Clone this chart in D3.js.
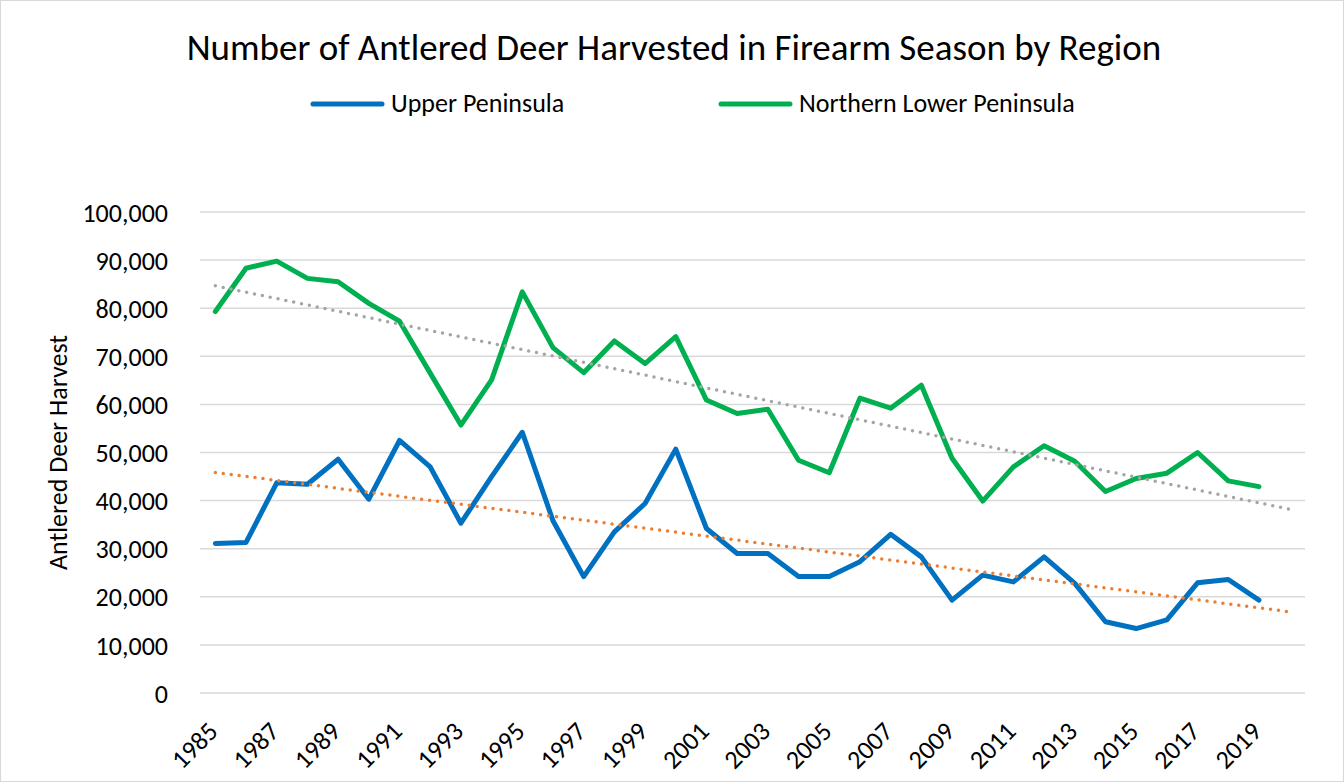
<!DOCTYPE html>
<html>
<head>
<meta charset="utf-8">
<script src="https://cdn.jsdelivr.net/npm/d3@7"></script>
<style>
  body { margin: 0; background: #fff; }
  svg { display: block; font-family: Carlito, Calibri, Lato, sans-serif; }
</style>
</head>
<body>
<svg id="chart" width="1344" height="782"></svg>
<script>
// years on the category axis (2020 is an empty slot, the trendlines run to it)
var years = d3.range(1985, 2021);
var dataYears = d3.range(1985, 2020);

var upperPeninsula = [31100, 31300, 43700, 43400, 48600, 40300, 52500, 47000, 35300, 45000,
  54200, 35800, 24200, 33500, 39400, 50700, 34200, 29000, 29000, 24200,
  24200, 27300, 33000, 28300, 19300, 24500, 23100, 28300, 22800, 14800,
  13400, 15200, 22900, 23600, 19300];

var northernLower = [79300, 88300, 89800, 86200, 85500, 81000, 77300, 66500, 55700, 65100,
  83400, 71800, 66600, 73200, 68500, 74100, 60900, 58100, 59000, 48400,
  45800, 61300, 59200, 64000, 48800, 39900, 47000, 51400, 48200, 41900,
  44600, 45700, 50000, 44100, 42900];

var yTicks = d3.range(0, 100001, 10000);
var xLabels = d3.range(1985, 2020, 2);

var svg = d3.select('#chart');

var plotLeft = 200, plotRight = 1305, plotTop = 212, plotBottom = 693;
var labelSize = 26;

var x = d3.scaleBand().domain(years).range([plotLeft, plotRight]);
var y = d3.scaleLinear().domain([0, 100000]).range([plotBottom, plotTop]);
var cx = function(yr) { return x(yr) + x.bandwidth() / 2; };

// chart border
svg.append('rect')
  .attr('x', 0.5).attr('y', 0.5)
  .attr('width', 1343).attr('height', 781)
  .attr('fill', 'none')
  .attr('stroke', '#d9d9d9');

// title
svg.append('text')
  .attr('x', 674).attr('y', 60)
  .attr('text-anchor', 'middle')
  .attr('font-size', 37)
  .attr('fill', '#000')
  .text('Number of Antlered Deer Harvested in Firearm Season by Region');

// gridlines
svg.append('g')
  .selectAll('line')
  .data(yTicks)
  .join('line')
  .attr('x1', plotLeft).attr('x2', plotRight)
  .attr('y1', function(d) { return y(d); })
  .attr('y2', function(d) { return y(d); })
  .attr('stroke', '#d9d9d9')
  .attr('stroke-width', 1.5);

// y axis
var yAxis = svg.append('g')
  .attr('transform', 'translate(' + (plotLeft - 32) + ',0)')
  .call(d3.axisLeft(y).tickValues(yTicks).tickSize(0).tickFormat(d3.format(',')));
yAxis.select('.domain').remove();
yAxis.selectAll('text')
  .attr('font-size', labelSize)
  .attr('font-family', 'Carlito, Calibri, Lato, sans-serif')
  .attr('fill', '#000')
  .attr('x', 0)
  .attr('dy', '0.35em');

svg.append('text')
  .attr('transform', 'translate(67,' + ((plotTop + plotBottom) / 2) + ') rotate(-90)')
  .attr('text-anchor', 'middle')
  .attr('font-size', labelSize)
  .attr('fill', '#000')
  .text('Antlered Deer Harvest');

// x axis
var xAxis = svg.append('g')
  .attr('transform', 'translate(0,' + plotBottom + ')')
  .call(d3.axisBottom(x).tickValues(xLabels).tickSize(0));
xAxis.select('.domain').remove();
xAxis.selectAll('text')
  .attr('font-size', labelSize)
  .attr('font-family', 'Carlito, Calibri, Lato, sans-serif')
  .attr('fill', '#000')
  .attr('text-anchor', 'end')
  .attr('dy', null)
  .attr('y', 0)
  .attr('transform', 'translate(4,40) rotate(-45)');

// linear trendline, forecast forward one period
function trend(vals) {
  var xs = d3.range(1, vals.length + 1);
  var mx = d3.mean(xs), my = d3.mean(vals);
  var num = d3.sum(xs, function(d, i) { return (d - mx) * (vals[i] - my); });
  var den = d3.sum(xs, function(d) { return (d - mx) * (d - mx); });
  var b = num / den, a = my - b * mx;
  return [
    [years[0], a + b * 1],
    [years[years.length - 1], a + b * years.length]
  ];
}

var line = d3.line()
  .x(function(d) { return cx(d[0]); })
  .y(function(d) { return y(d[1]); });

var series = [
  { name: 'Upper Peninsula', vals: upperPeninsula, color: '#0070c0', trendColor: '#ed7d31' },
  { name: 'Northern Lower Peninsula', vals: northernLower, color: '#00b050', trendColor: '#a5a5a5' }
];

series.forEach(function(s) {
  svg.append('path')
    .datum(dataYears.map(function(yr, i) { return [yr, s.vals[i]]; }))
    .attr('d', line)
    .attr('fill', 'none')
    .attr('stroke', s.color)
    .attr('stroke-width', 5)
    .attr('stroke-linejoin', 'round')
    .attr('stroke-linecap', 'round');
});

series.forEach(function(s) {
  svg.append('path')
    .datum(trend(s.vals))
    .attr('d', line)
    .attr('fill', 'none')
    .attr('stroke', s.trendColor)
    .attr('stroke-width', 3.5)
    .attr('stroke-linecap', 'round')
    .attr('stroke-dasharray', '0 8');
});

// legend
var legend = [
  { name: 'Upper Peninsula', color: '#0070c0', x: 313 },
  { name: 'Northern Lower Peninsula', color: '#00b050', x: 721 }
];
legend.forEach(function(l) {
  svg.append('line')
    .attr('x1', l.x).attr('x2', l.x + 69)
    .attr('y1', 104).attr('y2', 104)
    .attr('stroke', l.color)
    .attr('stroke-width', 5)
    .attr('stroke-linecap', 'round');
  svg.append('text')
    .attr('x', l.x + 78).attr('y', 112)
    .attr('font-size', labelSize)
    .attr('fill', '#000')
    .text(l.name);
});
</script>
</body>
</html>
